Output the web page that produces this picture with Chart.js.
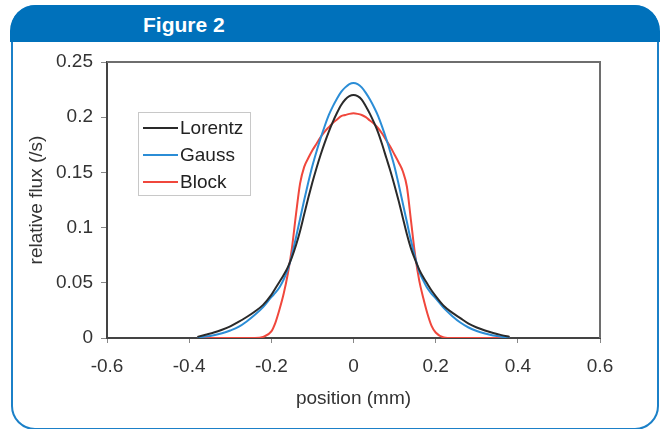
<!DOCTYPE html>
<html>
<head>
<meta charset="utf-8">
<title>Figure 2</title>
<script src="https://cdn.jsdelivr.net/npm/chart.js@4.4.0/dist/chart.umd.min.js"></script>
<style>
  html, body { margin: 0; padding: 0; background: #fff; }
  body { width: 662px; height: 429px; position: relative; overflow: hidden; font-family: "Liberation Sans", Arial, sans-serif; }
  #frame { position: absolute; left: 11px; top: 5px; width: 648px; height: 425px; box-sizing: border-box; border: 2px solid #1b80c8; border-radius: 24px; }
  #header { position: absolute; left: 10px; top: 5px; width: 650px; height: 37px; background: #0071bb; border-radius: 26px 26px 0 0; }
  #header span { position: absolute; left: 133px; top: 8px; color: #fff; font-weight: bold; font-size: 21px; }
  #chart-box { position: absolute; left: 0; top: 0; width: 662px; height: 429px; }
</style>
</head>
<body>
<div id="frame"></div>
<div id="header"><span>Figure 2</span></div>
<div id="chart-box"><canvas id="flux-chart" width="662" height="429"></canvas></div>
<script>
// positions along the profile (mm)
const positions = [
  -0.38, -0.36, -0.34, -0.32, -0.30, -0.28, -0.26, -0.24, -0.22,
  -0.20, -0.19, -0.18, -0.17, -0.16, -0.15, -0.14, -0.13, -0.12, -0.11,
  -0.10, -0.09, -0.08, -0.07, -0.06, -0.05, -0.04, -0.03, -0.02, -0.01,
  0,
  0.01, 0.02, 0.03, 0.04, 0.05, 0.06, 0.07, 0.08, 0.09, 0.10,
  0.11, 0.12, 0.13, 0.14, 0.15, 0.16, 0.17, 0.18, 0.19, 0.20,
  0.22, 0.24, 0.26, 0.28, 0.30, 0.32, 0.34, 0.36, 0.38
];

// relative flux (/s) per series
const lorentzFlux = [
  0.001, 0.003, 0.005, 0.0075, 0.0105, 0.0145, 0.019, 0.024, 0.030,
  0.039, 0.045, 0.051, 0.057, 0.064, 0.073, 0.084, 0.097, 0.112, 0.127,
  0.141, 0.154, 0.166, 0.177, 0.187, 0.196, 0.204, 0.211, 0.216, 0.219,
  0.220,
  0.219, 0.216, 0.210, 0.203, 0.195, 0.186, 0.175, 0.163, 0.151, 0.138,
  0.124, 0.109, 0.094, 0.081, 0.071, 0.062, 0.055, 0.049, 0.043, 0.038,
  0.029, 0.023, 0.018, 0.013, 0.0095, 0.0068, 0.0045, 0.0026, 0.001
];
const gaussFlux = [
  0.0005, 0.0013, 0.0025, 0.0043, 0.0068, 0.010, 0.015, 0.021, 0.028,
  0.037, 0.041, 0.046, 0.053, 0.062, 0.075, 0.091, 0.108, 0.125, 0.141,
  0.156, 0.169, 0.181, 0.192, 0.202, 0.210, 0.217, 0.223, 0.227, 0.230,
  0.231,
  0.230, 0.227, 0.222, 0.216, 0.209, 0.201, 0.191, 0.180, 0.168, 0.155,
  0.139, 0.122, 0.105, 0.088, 0.073, 0.060, 0.052, 0.045, 0.040, 0.036,
  0.027, 0.020, 0.014, 0.0095, 0.0063, 0.004, 0.0023, 0.0012, 0.0005
];
const blockFlux = [
  0, 0, 0, 0, 0, 0, 0, 0, 0.001,
  0.006, 0.014, 0.026, 0.040, 0.058, 0.081, 0.112, 0.140, 0.155, 0.163,
  0.170, 0.176, 0.182, 0.187, 0.191, 0.195, 0.198, 0.201, 0.202, 0.203,
  0.2035,
  0.203, 0.202, 0.200, 0.197, 0.194, 0.190, 0.185, 0.179, 0.173, 0.166,
  0.159, 0.151, 0.137, 0.106, 0.075, 0.052, 0.036, 0.022, 0.011, 0.005,
  0.0005, 0, 0, 0, 0, 0, 0, 0, 0
];

const seriesNames = ['Lorentz', 'Gauss', 'Block'];

const xTickValues = [-0.6, -0.4, -0.2, 0, 0.2, 0.4, 0.6];
const xTickLabels = ['-0.6', '-0.4', '-0.2', '0', '0.2', '0.4', '0.6'];
const yTickValues = [0, 0.05, 0.1, 0.15, 0.2, 0.25];
const yTickLabels = ['0', '0.05', '0.1', '0.15', '0.2', '0.25'];

const FONT = '"Liberation Sans", Arial, sans-serif';

function toPoints(values) {
  return positions.map((x, i) => ({ x: x, y: values[i] }));
}

// top and right edges of the plot box
const frameBox = {
  id: 'frameBox',
  afterDraw(chart) {
    const { ctx, chartArea: a } = chart;
    ctx.save();
    ctx.strokeStyle = '#6e6e6e';
    ctx.lineWidth = 2;
    ctx.beginPath();
    ctx.moveTo(a.left, a.top);
    ctx.lineTo(a.right, a.top);
    ctx.lineTo(a.right, a.bottom);
    ctx.stroke();
    ctx.restore();
  }
};

// legend box drawn inside the plot, upper left
const boxLegend = {
  id: 'boxLegend',
  afterDraw(chart) {
    const ctx = chart.ctx;
    const left = 138, top = 112, w = 112, h = 83;
    ctx.save();
    ctx.fillStyle = '#fff';
    ctx.fillRect(left, top, w, h);
    ctx.strokeStyle = '#c8c8c8';
    ctx.lineWidth = 1;
    ctx.strokeRect(left + 0.5, top + 0.5, w, h);
    ctx.font = '19px ' + FONT;
    ctx.textBaseline = 'middle';
    chart.data.datasets.forEach((ds, i) => {
      const y = top + 16 + i * 27;
      ctx.strokeStyle = ds.borderColor;
      ctx.lineWidth = 2;
      ctx.beginPath();
      ctx.moveTo(left + 5, y);
      ctx.lineTo(left + 40, y);
      ctx.stroke();
      ctx.fillStyle = '#222';
      ctx.fillText(ds.label, left + 42, y + 1);
    });
    ctx.restore();
  }
};

const ctx = document.getElementById('flux-chart').getContext('2d');
new Chart(ctx, {
  type: 'line',
  data: {
    datasets: [
      { label: seriesNames[0], data: toPoints(lorentzFlux), borderColor: '#2a2a2a' },
      { label: seriesNames[1], data: toPoints(gaussFlux), borderColor: '#2b8dd6' },
      { label: seriesNames[2], data: toPoints(blockFlux), borderColor: '#f0473c' }
    ]
  },
  options: {
    responsive: false,
    animation: false,
    layout: { padding: { top: 62, right: 62, bottom: 0, left: 0 } },
    elements: {
      point: { radius: 0 },
      line: { borderWidth: 2, cubicInterpolationMode: 'monotone', fill: false }
    },
    plugins: {
      legend: { display: false },
      tooltip: { enabled: false }
    },
    scales: {
      x: {
        type: 'linear',
        min: -0.6,
        max: 0.6,
        afterBuildTicks: scale => { scale.ticks = xTickValues.map(v => ({ value: v })); },
        afterFit: scale => { scale.height = 91; },
        ticks: {
          callback: value => xTickLabels[xTickValues.indexOf(value)],
          font: { family: FONT, size: 19 },
          color: '#333',
          padding: 12,
          maxRotation: 0,
          autoSkip: false
        },
        grid: { drawOnChartArea: false, tickLength: 5, color: '#888' },
        border: { color: '#444', width: 2 },
        title: {
          display: true,
          text: 'position (mm)',
          font: { family: FONT, size: 19 },
          color: '#333',
          padding: { top: 0, bottom: 19 }
        }
      },
      y: {
        min: 0,
        max: 0.25,
        afterBuildTicks: scale => { scale.ticks = yTickValues.map(v => ({ value: v })); },
        afterFit: scale => { scale.width = 107; },
        ticks: {
          callback: value => yTickLabels[yTickValues.indexOf(value)],
          font: { family: FONT, size: 19 },
          color: '#333',
          padding: 8
        },
        grid: { drawOnChartArea: false, tickLength: 6, color: '#888' },
        border: { color: '#444', width: 2 },
        title: {
          display: true,
          text: 'relative flux (/s)',
          font: { family: FONT, size: 19 },
          color: '#333',
          padding: { top: 25, bottom: 0 }
        }
      }
    }
  },
  plugins: [frameBox, boxLegend]
});
</script>
</body>
</html>
